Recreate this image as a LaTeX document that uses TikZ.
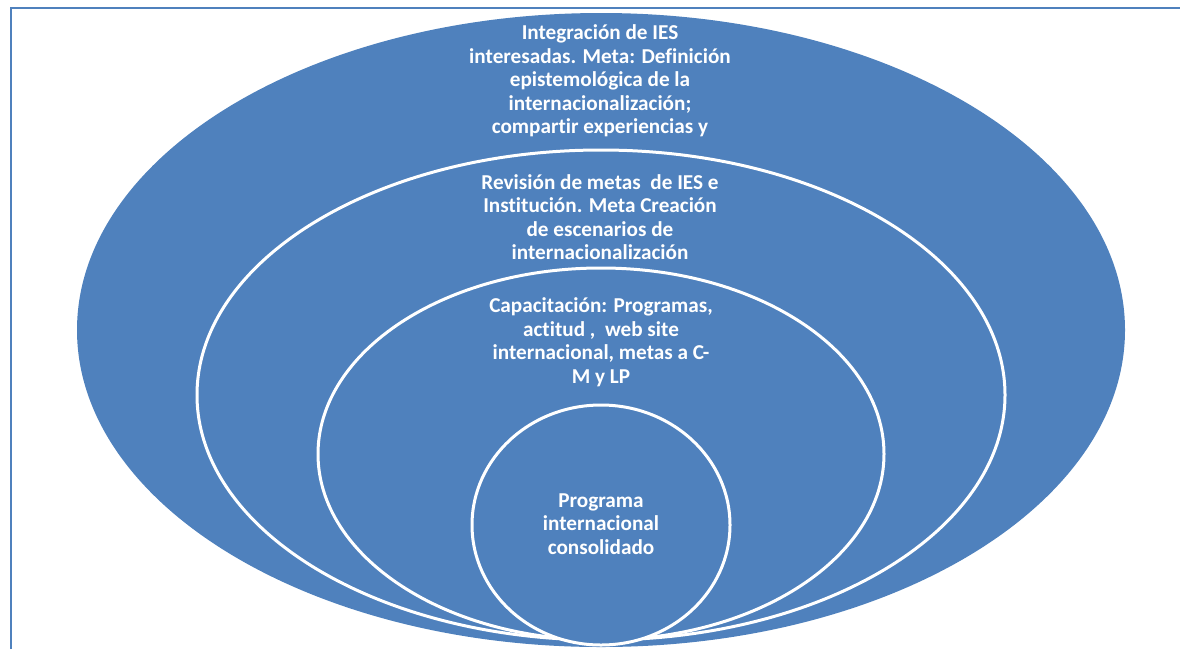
\documentclass[tikz,border=0pt]{standalone}
\usepackage{fontspec}
\setmainfont{Carlito}[Ligatures={NoCommon}]
\definecolor{officeblue}{HTML}{4F81BD}
\begin{document}
\begin{tikzpicture}[x=1pt,y=-1pt,
  ringfill/.style={fill=officeblue},
  ringline/.style={fill=officeblue,draw=white,line width=3pt},
  lbl/.style={text=white,align=center,inner sep=0pt,font=\bfseries\fontsize{21.2}{23.5}\selectfont}]
\useasboundingbox (0,0) rectangle (1180,649);
% frame
\coordinate (fbl) at (10.5,649);
\coordinate (ftl) at (10.5,8);
\coordinate (ftr) at (1180,8);
\draw[officeblue,line width=2pt] (fbl) -- (ftl) -- (ftr);
% rings
\fill[ringfill] (601,330) ellipse [x radius=524,y radius=317];
\draw[ringline] (601,395) ellipse [x radius=404,y radius=245];
\draw[ringline] (601,454) ellipse [x radius=283,y radius=186];
\draw[ringline] (601,525) ellipse [x radius=129,y radius=120];
% labels
\node[lbl] (t1) at (600,81) {Integración de IES\\interesadas. Meta: Definición\\epistemológica de la\\internacionalización;\\compartir experiencias y};
\node[lbl] (t2) at (600,217) {Revisión de metas\ \ de IES e\\Institución. Meta Creación\\de escenarios de\\internacionalización};
\node[lbl] (t3) at (601,342) {Capacitación: Programas,\\actitud ,\ \ web site\\internacional, metas a C-\\M y LP};
\node[lbl] (t4) at (601,524) {Programa\\internacional\\consolidado};
\end{tikzpicture}
\end{document}
